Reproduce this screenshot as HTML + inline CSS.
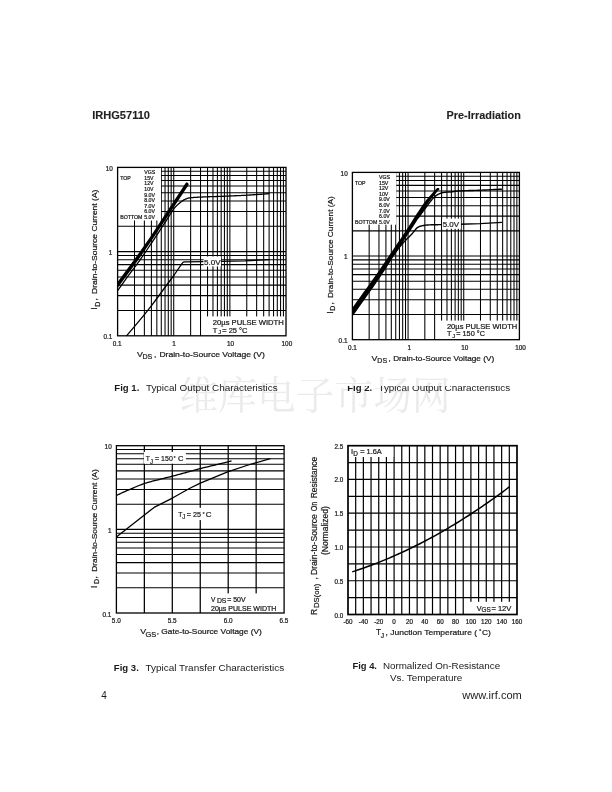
<!DOCTYPE html>
<html lang="en"><head><meta charset="utf-8"><title>IRHG57110 - Pre-Irradiation</title>
<style>
html,body{margin:0;padding:0;background:#fff;}
body{width:612px;height:792px;overflow:hidden;}
svg{display:block;font-family:"Liberation Sans", sans-serif;}
svg text{font-family:"Liberation Sans", sans-serif;}
</style></head><body>
<svg width="612" height="792" viewBox="0 0 612 792">
<defs><clipPath id="p2"><rect x="352.4" y="172.4" width="167" height="167.3"/></clipPath><clipPath id="c2"><rect x="340" y="386" width="200" height="20"/></clipPath></defs>
<rect width="612" height="792" fill="#fff"/>
<text x="179.5" y="409" font-size="38.5" fill="#ebebeb" textLength="271" lengthAdjust="spacing" style="font-family:'Liberation Serif','Noto Serif CJK SC',serif">维库电子市场网</text>
<line x1="134.5" y1="167.4" x2="134.5" y2="335.8" stroke="#000" stroke-width="1.05"/>
<line x1="144.38" y1="167.4" x2="144.38" y2="335.8" stroke="#000" stroke-width="1.05"/>
<line x1="151.4" y1="167.4" x2="151.4" y2="335.8" stroke="#000" stroke-width="1.05"/>
<line x1="156.84" y1="167.4" x2="156.84" y2="335.8" stroke="#000" stroke-width="1.05"/>
<line x1="161.28" y1="167.4" x2="161.28" y2="335.8" stroke="#000" stroke-width="1.05"/>
<line x1="165.04" y1="167.4" x2="165.04" y2="335.8" stroke="#000" stroke-width="1.05"/>
<line x1="168.29" y1="167.4" x2="168.29" y2="335.8" stroke="#000" stroke-width="1.05"/>
<line x1="171.16" y1="167.4" x2="171.16" y2="335.8" stroke="#000" stroke-width="1.05"/>
<line x1="173.73" y1="167.4" x2="173.73" y2="335.8" stroke="#000" stroke-width="1.05"/>
<line x1="190.63" y1="167.4" x2="190.63" y2="335.8" stroke="#000" stroke-width="1.05"/>
<line x1="200.52" y1="167.4" x2="200.52" y2="335.8" stroke="#000" stroke-width="1.05"/>
<line x1="207.53" y1="167.4" x2="207.53" y2="335.8" stroke="#000" stroke-width="1.05"/>
<line x1="212.97" y1="167.4" x2="212.97" y2="335.8" stroke="#000" stroke-width="1.05"/>
<line x1="217.41" y1="167.4" x2="217.41" y2="335.8" stroke="#000" stroke-width="1.05"/>
<line x1="221.17" y1="167.4" x2="221.17" y2="335.8" stroke="#000" stroke-width="1.05"/>
<line x1="224.43" y1="167.4" x2="224.43" y2="335.8" stroke="#000" stroke-width="1.05"/>
<line x1="227.3" y1="167.4" x2="227.3" y2="335.8" stroke="#000" stroke-width="1.05"/>
<line x1="229.87" y1="167.4" x2="229.87" y2="335.8" stroke="#000" stroke-width="1.05"/>
<line x1="246.76" y1="167.4" x2="246.76" y2="335.8" stroke="#000" stroke-width="1.05"/>
<line x1="256.65" y1="167.4" x2="256.65" y2="335.8" stroke="#000" stroke-width="1.05"/>
<line x1="263.66" y1="167.4" x2="263.66" y2="335.8" stroke="#000" stroke-width="1.05"/>
<line x1="269.1" y1="167.4" x2="269.1" y2="335.8" stroke="#000" stroke-width="1.05"/>
<line x1="273.55" y1="167.4" x2="273.55" y2="335.8" stroke="#000" stroke-width="1.05"/>
<line x1="277.3" y1="167.4" x2="277.3" y2="335.8" stroke="#000" stroke-width="1.05"/>
<line x1="280.56" y1="167.4" x2="280.56" y2="335.8" stroke="#000" stroke-width="1.05"/>
<line x1="283.43" y1="167.4" x2="283.43" y2="335.8" stroke="#000" stroke-width="1.05"/>
<line x1="117.6" y1="310.45" x2="286" y2="310.45" stroke="#000" stroke-width="1.05"/>
<line x1="117.6" y1="295.63" x2="286" y2="295.63" stroke="#000" stroke-width="1.05"/>
<line x1="117.6" y1="285.11" x2="286" y2="285.11" stroke="#000" stroke-width="1.05"/>
<line x1="117.6" y1="276.95" x2="286" y2="276.95" stroke="#000" stroke-width="1.05"/>
<line x1="117.6" y1="270.28" x2="286" y2="270.28" stroke="#000" stroke-width="1.05"/>
<line x1="117.6" y1="264.64" x2="286" y2="264.64" stroke="#000" stroke-width="1.05"/>
<line x1="117.6" y1="259.76" x2="286" y2="259.76" stroke="#000" stroke-width="1.05"/>
<line x1="117.6" y1="255.45" x2="286" y2="255.45" stroke="#000" stroke-width="1.05"/>
<line x1="117.6" y1="251.6" x2="286" y2="251.6" stroke="#000" stroke-width="1.05"/>
<line x1="117.6" y1="226.25" x2="286" y2="226.25" stroke="#000" stroke-width="1.05"/>
<line x1="117.6" y1="211.43" x2="286" y2="211.43" stroke="#000" stroke-width="1.05"/>
<line x1="117.6" y1="200.91" x2="286" y2="200.91" stroke="#000" stroke-width="1.05"/>
<line x1="117.6" y1="192.75" x2="286" y2="192.75" stroke="#000" stroke-width="1.05"/>
<line x1="117.6" y1="186.08" x2="286" y2="186.08" stroke="#000" stroke-width="1.05"/>
<line x1="117.6" y1="180.44" x2="286" y2="180.44" stroke="#000" stroke-width="1.05"/>
<line x1="117.6" y1="175.56" x2="286" y2="175.56" stroke="#000" stroke-width="1.05"/>
<line x1="117.6" y1="171.25" x2="286" y2="171.25" stroke="#000" stroke-width="1.05"/>
<rect x="117.6" y="167.4" width="43.4" height="53.1" fill="#fff"/>
<text x="144.3" y="174" font-size="5.2" fill="#1a1a1a" stroke="#1a1a1a" stroke-width="0.22">VGS</text>
<text x="144.3" y="180" font-size="5.2" fill="#1a1a1a" stroke="#1a1a1a" stroke-width="0.22">15V</text>
<text x="144.3" y="185" font-size="5.2" fill="#1a1a1a" stroke="#1a1a1a" stroke-width="0.22">12V</text>
<text x="144.3" y="191" font-size="5.2" fill="#1a1a1a" stroke="#1a1a1a" stroke-width="0.22">10V</text>
<text x="144.3" y="197" font-size="5.2" fill="#1a1a1a" stroke="#1a1a1a" stroke-width="0.22">9.0V</text>
<text x="144.3" y="202" font-size="5.2" fill="#1a1a1a" stroke="#1a1a1a" stroke-width="0.22">8.0V</text>
<text x="144.3" y="208" font-size="5.2" fill="#1a1a1a" stroke="#1a1a1a" stroke-width="0.22">7.0V</text>
<text x="144.3" y="213" font-size="5.2" fill="#1a1a1a" stroke="#1a1a1a" stroke-width="0.22">6.0V</text>
<text x="144.3" y="219" font-size="5.2" fill="#1a1a1a" stroke="#1a1a1a" stroke-width="0.22">5.0V</text>
<text x="120.2" y="180" font-size="5.2" fill="#1a1a1a" stroke="#1a1a1a" stroke-width="0.22">TOP</text>
<text x="120.2" y="219" font-size="5.2" textLength="22.3" lengthAdjust="spacingAndGlyphs" fill="#1a1a1a" stroke="#1a1a1a" stroke-width="0.22">BOTTOM</text>
<rect x="206.3" y="316.4" width="79.7" height="19.4" fill="#fff"/>
<polygon fill="#000" points="117.6,282.0 134.2,259.6 150.0,237.2 185.86,182.71 186.9,182.3 188.2,183.3 188.74,184.69 153.9,237.2 138.6,259.6 117.6,288.0"/>
<polyline fill="none" stroke="#000" stroke-width="1.3" stroke-linejoin="round" stroke-linecap="butt" points="117.6,290.6 118.18,289.8 118.91,288.78 119.76,287.59 120.73,286.25 121.77,284.79 122.87,283.26 124.02,281.67 125.17,280.06 126.32,278.47 127.44,276.93 128.51,275.46 129.5,274.1 130.42,272.85 131.31,271.66 132.18,270.52 133.02,269.41 133.86,268.32 134.7,267.22 135.55,266.1 136.42,264.94 137.32,263.73 138.26,262.45 139.25,261.08 140.3,259.6 141.42,257.99 142.62,256.25 143.88,254.4 145.19,252.48 146.52,250.5 147.88,248.49 149.22,246.47 150.56,244.48 151.85,242.53 153.11,240.65 154.29,238.86 155.4,237.2 156.45,235.62 157.47,234.07 158.47,232.56 159.43,231.09 160.37,229.67 161.26,228.29 162.12,226.97 162.94,225.71 163.73,224.5 164.46,223.37 165.15,222.3 165.8,221.3 166.38,220.4 166.9,219.59 167.35,218.88 167.76,218.24 168.12,217.66 168.45,217.13 168.76,216.63 169.06,216.16 169.35,215.69 169.65,215.22 169.96,214.73 170.3,214.2 170.65,213.66 170.99,213.12 171.31,212.59 171.64,212.07 171.96,211.56 172.28,211.06 172.59,210.56 172.92,210.07 173.25,209.59 173.59,209.12 173.94,208.65 174.3,208.2 174.68,207.75 175.07,207.32 175.46,206.89 175.87,206.46 176.28,206.05 176.7,205.64 177.12,205.25 177.54,204.86 177.96,204.48 178.38,204.11 178.79,203.75 179.2,203.4 179.6,203.06 180,202.72 180.4,202.4 180.8,202.08 181.2,201.77 181.59,201.47 181.99,201.18 182.39,200.9 182.79,200.63 183.19,200.38 183.59,200.13 184,199.9 184.41,199.68 184.81,199.48 185.21,199.28 185.61,199.1 186.02,198.93 186.43,198.77 186.84,198.62 187.25,198.48 187.67,198.35 188.11,198.22 188.55,198.11 189,198 189.45,197.9 189.9,197.82 190.34,197.76 190.78,197.7 191.23,197.65 191.69,197.61 192.17,197.58 192.67,197.54 193.2,197.51 193.76,197.48 194.36,197.44 195,197.4 195.65,197.36 196.26,197.32 196.87,197.28 197.48,197.24 198.12,197.2 198.81,197.17 199.57,197.13 200.41,197.09 201.35,197.05 202.42,197.01 203.63,196.96 205,196.9 206.57,196.84 208.36,196.77 210.31,196.71 212.41,196.63 214.61,196.56 216.88,196.48 219.18,196.4 221.48,196.32 223.75,196.24 225.95,196.16 228.04,196.08 230,196 231.84,195.92 233.63,195.84 235.37,195.77 237.06,195.69 238.72,195.61 240.35,195.53 241.96,195.45 243.56,195.37 245.16,195.28 246.76,195.19 248.37,195.1 250,195 251.7,194.89 253.49,194.77 255.35,194.65 257.23,194.51 259.11,194.37 260.95,194.24 262.72,194.1 264.39,193.98 265.93,193.86 267.3,193.76 268.46,193.67 269.4,193.6"/>
<polyline fill="none" stroke="#000" stroke-width="1.3" stroke-linejoin="round" stroke-linecap="butt" points="126.5,335.8 134.6,326.4 144.6,314.4 151.7,305.3 155.7,300 174.5,274.5 182.3,263.1 183.3,262.1 185,261.8 203.7,261.6"/>
<polyline fill="none" stroke="#000" stroke-width="1.3" stroke-linejoin="round" stroke-linecap="butt" points="220.8,261.4 245,260.9 269.4,259.6"/>
<rect x="203.6" y="256.5" width="17.4" height="9.9" fill="#fff"/>
<text x="204" y="265" font-size="8.0" textLength="16.6" lengthAdjust="spacingAndGlyphs" fill="#1a1a1a" stroke="#1a1a1a" stroke-width="0.22">5.0V</text>
<rect x="117.6" y="167.4" width="168.4" height="168.4" fill="none" stroke="#000" stroke-width="1.3"/>
<text x="212.8" y="324.6" font-size="6.8" textLength="71" lengthAdjust="spacingAndGlyphs" fill="#1a1a1a" stroke="#1a1a1a" stroke-width="0.22">20µs PULSE WIDTH</text>
<text x="212.8" y="332.6" font-size="7.4" fill="#1a1a1a" stroke="#1a1a1a" stroke-width="0.22">T</text>
<text x="218.2" y="333.6" font-size="5.6" fill="#1a1a1a" stroke="#1a1a1a" stroke-width="0.22">J</text>
<text x="222.2" y="332.6" font-size="7.4" textLength="25.3" lengthAdjust="spacingAndGlyphs" fill="#1a1a1a" stroke="#1a1a1a" stroke-width="0.22">= 25 °C</text>
<text x="112.8" y="170.7" font-size="6.4" text-anchor="end" fill="#1a1a1a" stroke="#1a1a1a" stroke-width="0.22">10</text>
<text x="112.4" y="255" font-size="6.4" text-anchor="end" fill="#1a1a1a" stroke="#1a1a1a" stroke-width="0.22">1</text>
<text x="112.4" y="338.8" font-size="6.4" text-anchor="end" fill="#1a1a1a" stroke="#1a1a1a" stroke-width="0.22">0.1</text>
<text x="117.2" y="345.8" font-size="6.4" text-anchor="middle" fill="#1a1a1a" stroke="#1a1a1a" stroke-width="0.22">0.1</text>
<text x="174.1" y="345.8" font-size="6.4" text-anchor="middle" fill="#1a1a1a" stroke="#1a1a1a" stroke-width="0.22">1</text>
<text x="230.5" y="345.8" font-size="6.4" text-anchor="middle" fill="#1a1a1a" stroke="#1a1a1a" stroke-width="0.22">10</text>
<text x="286.9" y="345.8" font-size="6.4" text-anchor="middle" fill="#1a1a1a" stroke="#1a1a1a" stroke-width="0.22">100</text>
<text x="137" y="356.9" font-size="8.0" textLength="5.9" lengthAdjust="spacingAndGlyphs" fill="#1a1a1a" stroke="#1a1a1a" stroke-width="0.22">V</text>
<text x="142.5" y="359.2" font-size="7.5" textLength="9.8" lengthAdjust="spacingAndGlyphs" fill="#1a1a1a" stroke="#1a1a1a" stroke-width="0.22">DS</text>
<text x="153.9" y="356.9" font-size="8.0" fill="#1a1a1a" stroke="#1a1a1a" stroke-width="0.22">,</text>
<text x="159.4" y="356.8" font-size="7.9" textLength="105.4" lengthAdjust="spacingAndGlyphs" fill="#1a1a1a" stroke="#1a1a1a" stroke-width="0.22">Drain-to-Source Voltage (V)</text>
<text x="97.3" y="309.8" font-size="8.45" fill="#1a1a1a" stroke="#1a1a1a" stroke-width="0.22" transform="rotate(-90 97.3 309.8)">I</text>
<text x="99.6" y="306.7" font-size="7" fill="#1a1a1a" stroke="#1a1a1a" stroke-width="0.22" transform="rotate(-90 99.6 306.7)">D</text>
<text x="97.3" y="300.4" font-size="8.45" fill="#1a1a1a" stroke="#1a1a1a" stroke-width="0.22" transform="rotate(-90 97.3 300.4)">,</text>
<text x="97.3" y="293.9" font-size="7.9" textLength="104.3" lengthAdjust="spacingAndGlyphs" fill="#1a1a1a" stroke="#1a1a1a" stroke-width="0.22" transform="rotate(-90 97.3 293.9)">Drain-to-Source Current (A)</text>
<line x1="144.35" y1="445.7" x2="144.35" y2="613" stroke="#000" stroke-width="1.25"/>
<line x1="172.3" y1="445.7" x2="172.3" y2="613" stroke="#000" stroke-width="1.25"/>
<line x1="200.25" y1="445.7" x2="200.25" y2="613" stroke="#000" stroke-width="1.25"/>
<line x1="228.2" y1="445.7" x2="228.2" y2="613" stroke="#000" stroke-width="1.25"/>
<line x1="256.15" y1="445.7" x2="256.15" y2="613" stroke="#000" stroke-width="1.25"/>
<line x1="116.4" y1="587.82" x2="284.1" y2="587.82" stroke="#000" stroke-width="1.05"/>
<line x1="116.4" y1="573.09" x2="284.1" y2="573.09" stroke="#000" stroke-width="1.05"/>
<line x1="116.4" y1="562.64" x2="284.1" y2="562.64" stroke="#000" stroke-width="1.05"/>
<line x1="116.4" y1="554.53" x2="284.1" y2="554.53" stroke="#000" stroke-width="1.05"/>
<line x1="116.4" y1="547.91" x2="284.1" y2="547.91" stroke="#000" stroke-width="1.05"/>
<line x1="116.4" y1="542.31" x2="284.1" y2="542.31" stroke="#000" stroke-width="1.05"/>
<line x1="116.4" y1="537.46" x2="284.1" y2="537.46" stroke="#000" stroke-width="1.05"/>
<line x1="116.4" y1="533.18" x2="284.1" y2="533.18" stroke="#000" stroke-width="1.05"/>
<line x1="116.4" y1="529.35" x2="284.1" y2="529.35" stroke="#000" stroke-width="1.05"/>
<line x1="116.4" y1="504.17" x2="284.1" y2="504.17" stroke="#000" stroke-width="1.05"/>
<line x1="116.4" y1="489.44" x2="284.1" y2="489.44" stroke="#000" stroke-width="1.05"/>
<line x1="116.4" y1="478.99" x2="284.1" y2="478.99" stroke="#000" stroke-width="1.05"/>
<line x1="116.4" y1="470.88" x2="284.1" y2="470.88" stroke="#000" stroke-width="1.05"/>
<line x1="116.4" y1="464.26" x2="284.1" y2="464.26" stroke="#000" stroke-width="1.05"/>
<line x1="116.4" y1="458.66" x2="284.1" y2="458.66" stroke="#000" stroke-width="1.05"/>
<line x1="116.4" y1="453.81" x2="284.1" y2="453.81" stroke="#000" stroke-width="1.05"/>
<line x1="116.4" y1="449.53" x2="284.1" y2="449.53" stroke="#000" stroke-width="1.05"/>
<rect x="201.4" y="593.4" width="82.7" height="19.6" fill="#fff"/>
<rect x="143.9" y="451.8" width="42" height="11.9" fill="#fff"/>
<rect x="176.5" y="507.8" width="36.5" height="12.3" fill="#fff"/>
<polyline fill="none" stroke="#000" stroke-width="1.3" stroke-linejoin="round" stroke-linecap="butt" points="116.4,495.4 117.05,495.1 117.87,494.73 118.83,494.3 119.9,493.81 121.06,493.28 122.3,492.71 123.59,492.13 124.9,491.54 126.23,490.95 127.53,490.37 128.8,489.82 130,489.3 131.17,488.8 132.36,488.29 133.56,487.78 134.77,487.27 135.98,486.76 137.2,486.25 138.42,485.75 139.63,485.27 140.84,484.8 142.04,484.34 143.23,483.91 144.4,483.5 145.56,483.12 146.7,482.76 147.84,482.43 148.96,482.11 150.08,481.8 151.2,481.51 152.32,481.23 153.44,480.95 154.56,480.67 155.7,480.39 156.84,480.1 158,479.8 159.17,479.5 160.36,479.2 161.56,478.9 162.77,478.6 163.98,478.3 165.2,478 166.42,477.7 167.63,477.4 168.84,477.1 170.04,476.8 171.23,476.5 172.4,476.2 173.56,475.9 174.7,475.59 175.84,475.29 176.97,474.98 178.09,474.68 179.21,474.37 180.32,474.06 181.44,473.75 182.57,473.44 183.7,473.13 184.84,472.82 186,472.5 187.17,472.18 188.34,471.86 189.52,471.53 190.7,471.2 191.89,470.87 193.08,470.54 194.28,470.21 195.48,469.89 196.68,469.56 197.89,469.23 199.09,468.92 200.3,468.6 201.51,468.29 202.71,467.99 203.9,467.69 205.1,467.39 206.31,467.1 207.51,466.81 208.73,466.51 209.95,466.22 211.19,465.92 212.44,465.62 213.71,465.31 215,465 216.36,464.67 217.84,464.31 219.39,463.93 220.98,463.55 222.58,463.16 224.17,462.77 225.7,462.4 227.16,462.05 228.49,461.73 229.68,461.44 230.7,461.19 231.5,461"/>
<polyline fill="none" stroke="#000" stroke-width="1.3" stroke-linejoin="round" stroke-linecap="butt" points="116.4,536.9 154.1,507.4 172.9,497.8 189.4,488.5 200.3,483.2 227.6,471.8 248.2,465 270.3,458.6"/>
<rect x="116.4" y="445.7" width="167.7" height="167.3" fill="none" stroke="#000" stroke-width="1.3"/>
<text x="145.8" y="461" font-size="8.0" textLength="4.1" lengthAdjust="spacingAndGlyphs" fill="#1a1a1a" stroke="#1a1a1a" stroke-width="0.22">T</text>
<text x="149.9" y="463.6" font-size="7.0" textLength="3" lengthAdjust="spacingAndGlyphs" fill="#1a1a1a" stroke="#1a1a1a" stroke-width="0.22">J</text>
<text x="155.1" y="461" font-size="8.0" textLength="17.7" lengthAdjust="spacingAndGlyphs" fill="#1a1a1a" stroke="#1a1a1a" stroke-width="0.22">= 150</text>
<text x="173.6" y="460" font-size="5.6" fill="#1a1a1a" stroke="#1a1a1a" stroke-width="0.22">°</text>
<text x="178.1" y="461" font-size="8.0" textLength="5.5" lengthAdjust="spacingAndGlyphs" fill="#1a1a1a" stroke="#1a1a1a" stroke-width="0.22">C</text>
<text x="178.3" y="516.8" font-size="8.0" textLength="4.1" lengthAdjust="spacingAndGlyphs" fill="#1a1a1a" stroke="#1a1a1a" stroke-width="0.22">T</text>
<text x="182.2" y="518.8" font-size="7.0" textLength="3" lengthAdjust="spacingAndGlyphs" fill="#1a1a1a" stroke="#1a1a1a" stroke-width="0.22">J</text>
<text x="186.7" y="516.8" font-size="8.0" textLength="14.2" lengthAdjust="spacingAndGlyphs" fill="#1a1a1a" stroke="#1a1a1a" stroke-width="0.22">= 25</text>
<text x="202.4" y="515.8" font-size="5.6" fill="#1a1a1a" stroke="#1a1a1a" stroke-width="0.22">°</text>
<text x="205.8" y="516.8" font-size="8.0" textLength="5.8" lengthAdjust="spacingAndGlyphs" fill="#1a1a1a" stroke="#1a1a1a" stroke-width="0.22">C</text>
<text x="211" y="601.9" font-size="6.5" fill="#1a1a1a" stroke="#1a1a1a" stroke-width="0.22">V</text>
<text x="216.9" y="603" font-size="6.4" textLength="9.5" lengthAdjust="spacingAndGlyphs" fill="#1a1a1a" stroke="#1a1a1a" stroke-width="0.22">DS</text>
<text x="227.2" y="601.9" font-size="6.5" textLength="18.4" lengthAdjust="spacingAndGlyphs" fill="#1a1a1a" stroke="#1a1a1a" stroke-width="0.22">= 50V</text>
<text x="211" y="610.5" font-size="6.5" textLength="65.4" lengthAdjust="spacingAndGlyphs" fill="#1a1a1a" stroke="#1a1a1a" stroke-width="0.22">20µs PULSE WIDTH</text>
<text x="111.7" y="448.8" font-size="6.4" text-anchor="end" fill="#1a1a1a" stroke="#1a1a1a" stroke-width="0.22">10</text>
<text x="111.5" y="533.4" font-size="6.4" text-anchor="end" fill="#1a1a1a" stroke="#1a1a1a" stroke-width="0.22">1</text>
<text x="111.3" y="617" font-size="6.4" text-anchor="end" fill="#1a1a1a" stroke="#1a1a1a" stroke-width="0.22">0.1</text>
<text x="116.3" y="622.9" font-size="6.4" text-anchor="middle" fill="#1a1a1a" stroke="#1a1a1a" stroke-width="0.22">5.0</text>
<text x="172.1" y="622.9" font-size="6.4" text-anchor="middle" fill="#1a1a1a" stroke="#1a1a1a" stroke-width="0.22">5.5</text>
<text x="228.2" y="622.9" font-size="6.4" text-anchor="middle" fill="#1a1a1a" stroke="#1a1a1a" stroke-width="0.22">6.0</text>
<text x="283.9" y="622.9" font-size="6.4" text-anchor="middle" fill="#1a1a1a" stroke="#1a1a1a" stroke-width="0.22">6.5</text>
<text x="140.2" y="634" font-size="8.0" textLength="5.9" lengthAdjust="spacingAndGlyphs" fill="#1a1a1a" stroke="#1a1a1a" stroke-width="0.22">V</text>
<text x="145.4" y="637" font-size="7.5" textLength="10.8" lengthAdjust="spacingAndGlyphs" fill="#1a1a1a" stroke="#1a1a1a" stroke-width="0.22">GS</text>
<text x="156.8" y="634" font-size="8.0" fill="#1a1a1a" stroke="#1a1a1a" stroke-width="0.22">,</text>
<text x="161.3" y="634" font-size="7.9" textLength="100.5" lengthAdjust="spacingAndGlyphs" fill="#1a1a1a" stroke="#1a1a1a" stroke-width="0.22">Gate-to-Source Voltage (V)</text>
<text x="97.1" y="587.9" font-size="8.4" fill="#1a1a1a" stroke="#1a1a1a" stroke-width="0.22" transform="rotate(-90 97.1 587.9)">I</text>
<text x="98.8" y="584.1" font-size="7" fill="#1a1a1a" stroke="#1a1a1a" stroke-width="0.22" transform="rotate(-90 98.8 584.1)">D</text>
<text x="97.1" y="578.4" font-size="8.4" fill="#1a1a1a" stroke="#1a1a1a" stroke-width="0.22" transform="rotate(-90 97.1 578.4)">,</text>
<text x="97.1" y="571.7" font-size="7.9" textLength="102.6" lengthAdjust="spacingAndGlyphs" fill="#1a1a1a" stroke="#1a1a1a" stroke-width="0.22" transform="rotate(-90 97.1 571.7)">Drain-to-Source Current (A)</text>
<line x1="355.68" y1="445.7" x2="355.68" y2="614.5" stroke="#000" stroke-width="1.2"/>
<line x1="363.36" y1="445.7" x2="363.36" y2="614.5" stroke="#000" stroke-width="1.2"/>
<line x1="371.05" y1="445.7" x2="371.05" y2="614.5" stroke="#000" stroke-width="1.2"/>
<line x1="378.73" y1="445.7" x2="378.73" y2="614.5" stroke="#000" stroke-width="1.2"/>
<line x1="386.41" y1="445.7" x2="386.41" y2="614.5" stroke="#000" stroke-width="1.2"/>
<line x1="394.09" y1="445.7" x2="394.09" y2="614.5" stroke="#000" stroke-width="1.2"/>
<line x1="401.77" y1="445.7" x2="401.77" y2="614.5" stroke="#000" stroke-width="1.2"/>
<line x1="409.45" y1="445.7" x2="409.45" y2="614.5" stroke="#000" stroke-width="1.2"/>
<line x1="417.14" y1="445.7" x2="417.14" y2="614.5" stroke="#000" stroke-width="1.2"/>
<line x1="424.82" y1="445.7" x2="424.82" y2="614.5" stroke="#000" stroke-width="1.2"/>
<line x1="432.5" y1="445.7" x2="432.5" y2="614.5" stroke="#000" stroke-width="1.2"/>
<line x1="440.18" y1="445.7" x2="440.18" y2="614.5" stroke="#000" stroke-width="1.2"/>
<line x1="447.86" y1="445.7" x2="447.86" y2="614.5" stroke="#000" stroke-width="1.2"/>
<line x1="455.55" y1="445.7" x2="455.55" y2="614.5" stroke="#000" stroke-width="1.2"/>
<line x1="463.23" y1="445.7" x2="463.23" y2="614.5" stroke="#000" stroke-width="1.2"/>
<line x1="470.91" y1="445.7" x2="470.91" y2="614.5" stroke="#000" stroke-width="1.2"/>
<line x1="478.59" y1="445.7" x2="478.59" y2="614.5" stroke="#000" stroke-width="1.2"/>
<line x1="486.27" y1="445.7" x2="486.27" y2="614.5" stroke="#000" stroke-width="1.2"/>
<line x1="493.95" y1="445.7" x2="493.95" y2="614.5" stroke="#000" stroke-width="1.2"/>
<line x1="501.64" y1="445.7" x2="501.64" y2="614.5" stroke="#000" stroke-width="1.2"/>
<line x1="509.32" y1="445.7" x2="509.32" y2="614.5" stroke="#000" stroke-width="1.2"/>
<line x1="348" y1="462.58" x2="517" y2="462.58" stroke="#000" stroke-width="1.2"/>
<line x1="348" y1="479.46" x2="517" y2="479.46" stroke="#000" stroke-width="1.2"/>
<line x1="348" y1="496.34" x2="517" y2="496.34" stroke="#000" stroke-width="1.2"/>
<line x1="348" y1="513.22" x2="517" y2="513.22" stroke="#000" stroke-width="1.2"/>
<line x1="348" y1="530.1" x2="517" y2="530.1" stroke="#000" stroke-width="1.2"/>
<line x1="348" y1="546.98" x2="517" y2="546.98" stroke="#000" stroke-width="1.2"/>
<line x1="348" y1="563.86" x2="517" y2="563.86" stroke="#000" stroke-width="1.2"/>
<line x1="348" y1="580.74" x2="517" y2="580.74" stroke="#000" stroke-width="1.2"/>
<line x1="348" y1="597.62" x2="517" y2="597.62" stroke="#000" stroke-width="1.2"/>
<rect x="348" y="445.7" width="45.4" height="11.3" fill="#fff"/>
<rect x="464.3" y="601.8" width="52.7" height="12.7" fill="#fff"/>
<polyline fill="none" stroke="#000" stroke-width="1.5" stroke-linejoin="round" stroke-linecap="butt" points="352.23,571.84 355.3,570.84 358.37,569.81 361.44,568.75 364.52,567.67 367.59,566.56 370.66,565.43 373.73,564.27 376.81,563.08 379.88,561.87 382.95,560.63 386.02,559.36 389.1,558.07 392.17,556.75 395.24,555.41 398.32,554.04 401.39,552.64 404.46,551.22 407.53,549.77 410.61,548.29 413.68,546.79 416.75,545.26 419.82,543.71 422.9,542.13 425.97,540.52 429.04,538.88 432.12,537.22 435.19,535.54 438.26,533.83 441.33,532.09 444.41,530.32 447.48,528.53 450.55,526.71 453.62,524.87 456.7,523 459.77,521.1 462.84,519.18 465.92,517.23 468.99,515.25 472.06,513.25 475.13,511.22 478.21,509.17 481.28,507.08 484.35,504.98 487.43,502.84 490.5,500.68 493.57,498.5 496.64,496.28 499.72,494.04 502.79,491.78 505.86,489.49 508.93,487.17 509.32,486.88"/>
<rect x="348" y="445.7" width="169" height="168.8" fill="none" stroke="#000" stroke-width="1.7"/>
<text x="351.1" y="454" font-size="7.5" fill="#1a1a1a" stroke="#1a1a1a" stroke-width="0.22">I</text>
<text x="353.3" y="456.4" font-size="6.4" fill="#1a1a1a" stroke="#1a1a1a" stroke-width="0.22">D</text>
<text x="360.2" y="454" font-size="7.5" textLength="21.6" lengthAdjust="spacingAndGlyphs" fill="#1a1a1a" stroke="#1a1a1a" stroke-width="0.22">= 1.6A</text>
<text x="476.8" y="610.9" font-size="7.3" fill="#1a1a1a" stroke="#1a1a1a" stroke-width="0.22">V</text>
<text x="481.6" y="611.8" font-size="6.6" textLength="9.3" lengthAdjust="spacingAndGlyphs" fill="#1a1a1a" stroke="#1a1a1a" stroke-width="0.22">GS</text>
<text x="491.4" y="610.9" font-size="7.3" textLength="20" lengthAdjust="spacingAndGlyphs" fill="#1a1a1a" stroke="#1a1a1a" stroke-width="0.22">= 12V</text>
<text x="343.2" y="618" font-size="6.3" text-anchor="end" fill="#1a1a1a" stroke="#1a1a1a" stroke-width="0.22">0.0</text>
<text x="343.2" y="583.6" font-size="6.3" text-anchor="end" fill="#1a1a1a" stroke="#1a1a1a" stroke-width="0.22">0.5</text>
<text x="343.2" y="550" font-size="6.3" text-anchor="end" fill="#1a1a1a" stroke="#1a1a1a" stroke-width="0.22">1.0</text>
<text x="343.2" y="516" font-size="6.3" text-anchor="end" fill="#1a1a1a" stroke="#1a1a1a" stroke-width="0.22">1.5</text>
<text x="343.2" y="482" font-size="6.3" text-anchor="end" fill="#1a1a1a" stroke="#1a1a1a" stroke-width="0.22">2.0</text>
<text x="343.2" y="449" font-size="6.3" text-anchor="end" fill="#1a1a1a" stroke="#1a1a1a" stroke-width="0.22">2.5</text>
<text x="348" y="623.7" font-size="6.3" text-anchor="middle" fill="#1a1a1a" stroke="#1a1a1a" stroke-width="0.22">-60</text>
<text x="363.36" y="623.7" font-size="6.3" text-anchor="middle" fill="#1a1a1a" stroke="#1a1a1a" stroke-width="0.22">-40</text>
<text x="378.73" y="623.7" font-size="6.3" text-anchor="middle" fill="#1a1a1a" stroke="#1a1a1a" stroke-width="0.22">-20</text>
<text x="394.09" y="623.7" font-size="6.3" text-anchor="middle" fill="#1a1a1a" stroke="#1a1a1a" stroke-width="0.22">0</text>
<text x="409.45" y="623.7" font-size="6.3" text-anchor="middle" fill="#1a1a1a" stroke="#1a1a1a" stroke-width="0.22">20</text>
<text x="424.82" y="623.7" font-size="6.3" text-anchor="middle" fill="#1a1a1a" stroke="#1a1a1a" stroke-width="0.22">40</text>
<text x="440.18" y="623.7" font-size="6.3" text-anchor="middle" fill="#1a1a1a" stroke="#1a1a1a" stroke-width="0.22">60</text>
<text x="455.55" y="623.7" font-size="6.3" text-anchor="middle" fill="#1a1a1a" stroke="#1a1a1a" stroke-width="0.22">80</text>
<text x="470.91" y="623.7" font-size="6.3" text-anchor="middle" fill="#1a1a1a" stroke="#1a1a1a" stroke-width="0.22">100</text>
<text x="486.27" y="623.7" font-size="6.3" text-anchor="middle" fill="#1a1a1a" stroke="#1a1a1a" stroke-width="0.22">120</text>
<text x="501.64" y="623.7" font-size="6.3" text-anchor="middle" fill="#1a1a1a" stroke="#1a1a1a" stroke-width="0.22">140</text>
<text x="517" y="623.7" font-size="6.3" text-anchor="middle" fill="#1a1a1a" stroke="#1a1a1a" stroke-width="0.22">160</text>
<text x="375.9" y="635" font-size="8.4" fill="#1a1a1a" stroke="#1a1a1a" stroke-width="0.22">T</text>
<text x="380.8" y="637.6" font-size="6.6" fill="#1a1a1a" stroke="#1a1a1a" stroke-width="0.22">J</text>
<text x="385.4" y="635" font-size="8.4" fill="#1a1a1a" stroke="#1a1a1a" stroke-width="0.22">,</text>
<text x="390.3" y="635" font-size="7.9" textLength="86.8" lengthAdjust="spacingAndGlyphs" fill="#1a1a1a" stroke="#1a1a1a" stroke-width="0.22">Junction Temperature (</text>
<text x="478.9" y="632.6" font-size="6.2" fill="#1a1a1a" stroke="#1a1a1a" stroke-width="0.22">°</text>
<text x="481.9" y="635" font-size="8.0" textLength="8.9" lengthAdjust="spacingAndGlyphs" fill="#1a1a1a" stroke="#1a1a1a" stroke-width="0.22">C)</text>
<text x="316.7" y="614.9" font-size="8.5" fill="#1a1a1a" stroke="#1a1a1a" stroke-width="0.22" transform="rotate(-90 316.7 614.9)">R</text>
<text x="319.3" y="607.9" font-size="7.4" textLength="24.2" lengthAdjust="spacingAndGlyphs" fill="#1a1a1a" stroke="#1a1a1a" stroke-width="0.22" transform="rotate(-90 319.3 607.9)">DS(on)</text>
<text x="316.7" y="579.5" font-size="8.5" fill="#1a1a1a" stroke="#1a1a1a" stroke-width="0.22" transform="rotate(-90 316.7 579.5)">,</text>
<text x="316.7" y="575.1" font-size="8.5" textLength="61" lengthAdjust="spacingAndGlyphs" fill="#1a1a1a" stroke="#1a1a1a" stroke-width="0.22" transform="rotate(-90 316.7 575.1)">Drain-to-Source</text>
<text x="316.7" y="511.3" font-size="8.5" textLength="9.6" lengthAdjust="spacingAndGlyphs" fill="#1a1a1a" stroke="#1a1a1a" stroke-width="0.22" transform="rotate(-90 316.7 511.3)">On</text>
<text x="316.7" y="498.2" font-size="8.5" textLength="41.4" lengthAdjust="spacingAndGlyphs" fill="#1a1a1a" stroke="#1a1a1a" stroke-width="0.22" transform="rotate(-90 316.7 498.2)">Resistance</text>
<text x="327.5" y="555" font-size="8.5" textLength="48.8" lengthAdjust="spacingAndGlyphs" fill="#1a1a1a" stroke="#1a1a1a" stroke-width="0.22" transform="rotate(-90 327.5 555)">(Normalized)</text>
<text x="114.3" y="390.8" font-size="9.6" font-weight="bold" textLength="25" lengthAdjust="spacingAndGlyphs" fill="#1a1a1a">Fig 1.</text>
<text x="145.9" y="390.8" font-size="9.6" textLength="131.7" lengthAdjust="spacingAndGlyphs" fill="#1a1a1a">Typical Output Characteristics</text>
<g clip-path="url(#c2)">
<text x="347.2" y="390.8" font-size="9.6" font-weight="bold" textLength="25" lengthAdjust="spacingAndGlyphs" fill="#1a1a1a">Fig 2.</text>
<text x="378.4" y="390.8" font-size="9.6" textLength="131.7" lengthAdjust="spacingAndGlyphs" fill="#1a1a1a">Typical Output Characteristics</text>
</g>
<line x1="369.16" y1="172.4" x2="369.16" y2="339.7" stroke="#000" stroke-width="1.05"/>
<line x1="378.96" y1="172.4" x2="378.96" y2="339.7" stroke="#000" stroke-width="1.05"/>
<line x1="385.91" y1="172.4" x2="385.91" y2="339.7" stroke="#000" stroke-width="1.05"/>
<line x1="391.31" y1="172.4" x2="391.31" y2="339.7" stroke="#000" stroke-width="1.05"/>
<line x1="395.72" y1="172.4" x2="395.72" y2="339.7" stroke="#000" stroke-width="1.05"/>
<line x1="399.44" y1="172.4" x2="399.44" y2="339.7" stroke="#000" stroke-width="1.05"/>
<line x1="402.67" y1="172.4" x2="402.67" y2="339.7" stroke="#000" stroke-width="1.05"/>
<line x1="405.52" y1="172.4" x2="405.52" y2="339.7" stroke="#000" stroke-width="1.05"/>
<line x1="408.07" y1="172.4" x2="408.07" y2="339.7" stroke="#000" stroke-width="1.05"/>
<line x1="424.82" y1="172.4" x2="424.82" y2="339.7" stroke="#000" stroke-width="1.05"/>
<line x1="434.63" y1="172.4" x2="434.63" y2="339.7" stroke="#000" stroke-width="1.05"/>
<line x1="441.58" y1="172.4" x2="441.58" y2="339.7" stroke="#000" stroke-width="1.05"/>
<line x1="446.98" y1="172.4" x2="446.98" y2="339.7" stroke="#000" stroke-width="1.05"/>
<line x1="451.38" y1="172.4" x2="451.38" y2="339.7" stroke="#000" stroke-width="1.05"/>
<line x1="455.11" y1="172.4" x2="455.11" y2="339.7" stroke="#000" stroke-width="1.05"/>
<line x1="458.34" y1="172.4" x2="458.34" y2="339.7" stroke="#000" stroke-width="1.05"/>
<line x1="461.19" y1="172.4" x2="461.19" y2="339.7" stroke="#000" stroke-width="1.05"/>
<line x1="463.73" y1="172.4" x2="463.73" y2="339.7" stroke="#000" stroke-width="1.05"/>
<line x1="480.49" y1="172.4" x2="480.49" y2="339.7" stroke="#000" stroke-width="1.05"/>
<line x1="490.29" y1="172.4" x2="490.29" y2="339.7" stroke="#000" stroke-width="1.05"/>
<line x1="497.25" y1="172.4" x2="497.25" y2="339.7" stroke="#000" stroke-width="1.05"/>
<line x1="502.64" y1="172.4" x2="502.64" y2="339.7" stroke="#000" stroke-width="1.05"/>
<line x1="507.05" y1="172.4" x2="507.05" y2="339.7" stroke="#000" stroke-width="1.05"/>
<line x1="510.78" y1="172.4" x2="510.78" y2="339.7" stroke="#000" stroke-width="1.05"/>
<line x1="514.01" y1="172.4" x2="514.01" y2="339.7" stroke="#000" stroke-width="1.05"/>
<line x1="516.85" y1="172.4" x2="516.85" y2="339.7" stroke="#000" stroke-width="1.05"/>
<line x1="352.4" y1="314.52" x2="519.4" y2="314.52" stroke="#000" stroke-width="1.05"/>
<line x1="352.4" y1="299.79" x2="519.4" y2="299.79" stroke="#000" stroke-width="1.05"/>
<line x1="352.4" y1="289.34" x2="519.4" y2="289.34" stroke="#000" stroke-width="1.05"/>
<line x1="352.4" y1="281.23" x2="519.4" y2="281.23" stroke="#000" stroke-width="1.05"/>
<line x1="352.4" y1="274.61" x2="519.4" y2="274.61" stroke="#000" stroke-width="1.05"/>
<line x1="352.4" y1="269.01" x2="519.4" y2="269.01" stroke="#000" stroke-width="1.05"/>
<line x1="352.4" y1="264.16" x2="519.4" y2="264.16" stroke="#000" stroke-width="1.05"/>
<line x1="352.4" y1="259.88" x2="519.4" y2="259.88" stroke="#000" stroke-width="1.05"/>
<line x1="352.4" y1="256.05" x2="519.4" y2="256.05" stroke="#000" stroke-width="1.05"/>
<line x1="352.4" y1="230.87" x2="519.4" y2="230.87" stroke="#000" stroke-width="1.05"/>
<line x1="352.4" y1="216.14" x2="519.4" y2="216.14" stroke="#000" stroke-width="1.05"/>
<line x1="352.4" y1="205.69" x2="519.4" y2="205.69" stroke="#000" stroke-width="1.05"/>
<line x1="352.4" y1="197.58" x2="519.4" y2="197.58" stroke="#000" stroke-width="1.05"/>
<line x1="352.4" y1="190.96" x2="519.4" y2="190.96" stroke="#000" stroke-width="1.05"/>
<line x1="352.4" y1="185.36" x2="519.4" y2="185.36" stroke="#000" stroke-width="1.05"/>
<line x1="352.4" y1="180.51" x2="519.4" y2="180.51" stroke="#000" stroke-width="1.05"/>
<line x1="352.4" y1="176.23" x2="519.4" y2="176.23" stroke="#000" stroke-width="1.05"/>
<rect x="352.4" y="172.4" width="43.8" height="52.3" fill="#fff"/>
<text x="379.1" y="179" font-size="5.2" fill="#1a1a1a" stroke="#1a1a1a" stroke-width="0.22">VGS</text>
<text x="379.1" y="185" font-size="5.2" fill="#1a1a1a" stroke="#1a1a1a" stroke-width="0.22">15V</text>
<text x="379.1" y="190" font-size="5.2" fill="#1a1a1a" stroke="#1a1a1a" stroke-width="0.22">12V</text>
<text x="379.1" y="196" font-size="5.2" fill="#1a1a1a" stroke="#1a1a1a" stroke-width="0.22">10V</text>
<text x="379.1" y="201" font-size="5.2" fill="#1a1a1a" stroke="#1a1a1a" stroke-width="0.22">9.0V</text>
<text x="379.1" y="207" font-size="5.2" fill="#1a1a1a" stroke="#1a1a1a" stroke-width="0.22">8.0V</text>
<text x="379.1" y="213" font-size="5.2" fill="#1a1a1a" stroke="#1a1a1a" stroke-width="0.22">7.0V</text>
<text x="379.1" y="218" font-size="5.2" fill="#1a1a1a" stroke="#1a1a1a" stroke-width="0.22">6.0V</text>
<text x="379.1" y="224" font-size="5.2" fill="#1a1a1a" stroke="#1a1a1a" stroke-width="0.22">5.0V</text>
<text x="355" y="185" font-size="5.2" fill="#1a1a1a" stroke="#1a1a1a" stroke-width="0.22">TOP</text>
<text x="355" y="224" font-size="5.2" textLength="22.3" lengthAdjust="spacingAndGlyphs" fill="#1a1a1a" stroke="#1a1a1a" stroke-width="0.22">BOTTOM</text>
<rect x="440.5" y="320.6" width="78.9" height="19.1" fill="#fff"/>
<polygon clip-path="url(#p2)" fill="#000" points="342.25,322 342.7,321.36 343.21,320.65 343.8,319.82 344.52,318.82 345.39,317.6 346.44,316.12 347.72,314.34 349.25,312.2 351.17,309.52 353.5,306.26 356.12,302.61 358.9,298.74 361.7,294.84 364.39,291.08 366.85,287.64 368.95,284.7 370.69,282.27 372.18,280.17 373.5,278.32 374.68,276.65 375.79,275.08 376.88,273.53 378,271.93 379.2,270.2 380.42,268.43 381.57,266.75 382.69,265.09 383.82,263.41 385,261.67 386.25,259.8 387.63,257.76 389.15,255.5 390.87,252.96 392.76,250.18 394.77,247.2 396.87,244.12 398.98,240.99 401.08,237.88 403.1,234.86 405,232 406.82,229.23 408.62,226.44 410.39,223.68 412.12,220.97 413.79,218.35 415.39,215.86 416.89,213.53 418.3,211.4 419.57,209.49 420.7,207.8 421.74,206.27 422.7,204.86 423.64,203.54 424.58,202.25 425.55,200.95 426.6,199.6 427.77,198.16 429.06,196.66 430.41,195.14 431.74,193.66 433.02,192.28 434.17,191.04 435.13,189.99 435.85,189.2 437.2,187.9 438.8,188.1 439.9,189.6 439.35,189.2 438.69,189.99 437.8,191.04 436.74,192.28 435.57,193.66 434.33,195.14 433.09,196.66 431.9,198.16 430.8,199.6 429.82,200.95 428.91,202.25 428.03,203.54 427.15,204.86 426.23,206.27 425.24,207.8 424.14,209.49 422.9,211.4 421.51,213.53 420.01,215.86 418.41,218.35 416.73,220.97 414.99,223.68 413.21,226.44 411.41,229.23 409.6,232 407.72,234.86 405.72,237.88 403.66,240.99 401.57,244.12 399.52,247.2 397.55,250.18 395.71,252.96 394.05,255.5 392.6,257.76 391.31,259.8 390.14,261.67 389.06,263.41 388.03,265.09 387,266.75 385.94,268.43 384.8,270.2 383.67,271.93 382.63,273.53 381.61,275.08 380.57,276.65 379.44,278.32 378.18,280.17 376.74,282.27 375.05,284.7 372.99,287.64 370.57,291.08 367.9,294.84 365.13,298.74 362.38,302.61 359.77,306.26 357.46,309.52 355.55,312.2 354.03,314.34 352.76,316.12 351.7,317.6 350.83,318.82 350.11,319.82 349.51,320.65 349,321.36 348.55,322"/>
<polyline fill="none" stroke="#000" stroke-width="1.4" stroke-linejoin="round" stroke-linecap="butt" points="418,218.2 418.29,217.8 418.67,217.28 419.11,216.67 419.61,215.99 420.15,215.25 420.72,214.47 421.3,213.68 421.89,212.87 422.46,212.09 423.02,211.33 423.53,210.63 424,210 424.43,209.42 424.86,208.84 425.27,208.29 425.68,207.74 426.07,207.22 426.46,206.71 426.83,206.21 427.19,205.73 427.54,205.27 427.87,204.83 428.19,204.41 428.5,204 428.79,203.62 429.05,203.27 429.3,202.94 429.53,202.63 429.75,202.34 429.96,202.07 430.16,201.8 430.36,201.54 430.56,201.29 430.77,201.03 430.98,200.77 431.2,200.5 431.43,200.23 431.66,199.95 431.88,199.68 432.11,199.41 432.34,199.15 432.57,198.89 432.8,198.63 433.03,198.37 433.27,198.12 433.51,197.88 433.75,197.64 434,197.4 434.25,197.17 434.5,196.94 434.75,196.72 435,196.5 435.26,196.29 435.52,196.07 435.78,195.87 436.05,195.67 436.33,195.47 436.61,195.28 436.9,195.09 437.2,194.9 437.51,194.72 437.82,194.54 438.15,194.36 438.48,194.18 438.81,194.01 439.16,193.84 439.5,193.68 439.86,193.53 440.21,193.38 440.57,193.25 440.93,193.12 441.3,193 441.67,192.89 442.03,192.8 442.4,192.71 442.77,192.64 443.15,192.57 443.53,192.51 443.92,192.45 444.31,192.4 444.72,192.35 445.13,192.3 445.56,192.25 446,192.2 446.45,192.15 446.9,192.12 447.36,192.08 447.83,192.06 448.31,192.03 448.79,192.01 449.29,191.98 449.8,191.96 450.33,191.93 450.87,191.89 451.43,191.85 452,191.8 452.56,191.74 453.08,191.68 453.58,191.61 454.07,191.53 454.58,191.45 455.12,191.37 455.71,191.29 456.37,191.2 457.11,191.12 457.95,191.04 458.91,190.97 460,190.9 461.24,190.84 462.62,190.78 464.11,190.72 465.71,190.66 467.39,190.61 469.13,190.56 470.92,190.5 472.75,190.45 474.59,190.39 476.42,190.33 478.23,190.27 480,190.2 481.83,190.12 483.79,190.04 485.85,189.95 487.97,189.85 490.1,189.75 492.2,189.66 494.23,189.56 496.15,189.47 497.92,189.39 499.5,189.31 500.84,189.25 501.9,189.2"/>
<polyline fill="none" stroke="#000" stroke-width="1.4" stroke-linejoin="round" stroke-linecap="butt" points="380,274.5 380.27,274.14 380.6,273.69 380.99,273.17 381.43,272.59 381.9,271.95 382.41,271.27 382.93,270.56 383.46,269.84 384,269.11 384.52,268.38 385.02,267.68 385.5,267 385.96,266.33 386.42,265.66 386.87,264.97 387.33,264.27 387.79,263.57 388.24,262.87 388.7,262.16 389.16,261.46 389.62,260.76 390.08,260.06 390.54,259.38 391,258.7 391.46,258.03 391.92,257.37 392.37,256.72 392.82,256.07 393.28,255.43 393.73,254.79 394.19,254.15 394.66,253.5 395.13,252.86 395.61,252.21 396.1,251.56 396.6,250.9 397.11,250.24 397.62,249.57 398.14,248.9 398.67,248.23 399.2,247.55 399.74,246.88 400.29,246.2 400.85,245.52 401.42,244.84 402,244.16 402.59,243.48 403.2,242.8 403.83,242.11 404.5,241.41 405.19,240.7 405.91,239.99 406.63,239.27 407.36,238.56 408.08,237.86 408.78,237.17 409.46,236.49 410.12,235.83 410.73,235.2 411.3,234.6 411.83,234.02 412.32,233.44 412.79,232.88 413.23,232.33 413.65,231.79 414.05,231.28 414.43,230.78 414.8,230.31 415.16,229.86 415.51,229.44 415.86,229.05 416.2,228.7 416.52,228.38 416.81,228.11 417.08,227.87 417.33,227.66 417.57,227.48 417.8,227.31 418.04,227.17 418.28,227.03 418.54,226.9 418.83,226.77 419.15,226.64 419.5,226.5 419.89,226.36 420.3,226.22 420.74,226.09 421.19,225.97 421.66,225.85 422.14,225.74 422.64,225.63 423.14,225.53 423.66,225.44 424.17,225.35 424.69,225.27 425.2,225.2 425.71,225.13 426.2,225.08 426.7,225.03 427.19,224.99 427.69,224.96 428.2,224.93 428.73,224.91 429.28,224.89 429.85,224.86 430.46,224.84 431.11,224.82 431.8,224.8 432.57,224.78 433.45,224.75 434.4,224.73 435.4,224.71 436.43,224.69 437.46,224.68 438.47,224.66 439.43,224.64 440.32,224.63 441.11,224.62 441.78,224.61 442.3,224.6"/>
<polyline fill="none" stroke="#000" stroke-width="1.4" stroke-linejoin="round" stroke-linecap="butt" points="460,224.2 480,223.6 501.9,222.4"/>
<rect x="442.2" y="218.6" width="18.7" height="10.2" fill="#fff"/>
<text x="442.7" y="226.9" font-size="8.0" textLength="16.4" lengthAdjust="spacingAndGlyphs" fill="#1a1a1a" stroke="#1a1a1a" stroke-width="0.22">5.0V</text>
<rect x="352.4" y="172.4" width="167" height="167.3" fill="none" stroke="#000" stroke-width="1.3"/>
<text x="446.9" y="328.6" font-size="6.8" textLength="70.4" lengthAdjust="spacingAndGlyphs" fill="#1a1a1a" stroke="#1a1a1a" stroke-width="0.22">20µs PULSE WIDTH</text>
<text x="446.9" y="336.4" font-size="7.4" fill="#1a1a1a" stroke="#1a1a1a" stroke-width="0.22">T</text>
<text x="452.2" y="337.6" font-size="5.6" fill="#1a1a1a" stroke="#1a1a1a" stroke-width="0.22">J</text>
<text x="456.3" y="336.4" font-size="7.4" textLength="28.6" lengthAdjust="spacingAndGlyphs" fill="#1a1a1a" stroke="#1a1a1a" stroke-width="0.22">= 150 °C</text>
<text x="347.7" y="175.7" font-size="6.4" text-anchor="end" fill="#1a1a1a" stroke="#1a1a1a" stroke-width="0.22">10</text>
<text x="347.5" y="259" font-size="6.4" text-anchor="end" fill="#1a1a1a" stroke="#1a1a1a" stroke-width="0.22">1</text>
<text x="347.5" y="342.7" font-size="6.4" text-anchor="end" fill="#1a1a1a" stroke="#1a1a1a" stroke-width="0.22">0.1</text>
<text x="352.4" y="349.8" font-size="6.4" text-anchor="middle" fill="#1a1a1a" stroke="#1a1a1a" stroke-width="0.22">0.1</text>
<text x="409.2" y="349.8" font-size="6.4" text-anchor="middle" fill="#1a1a1a" stroke="#1a1a1a" stroke-width="0.22">1</text>
<text x="464.8" y="349.8" font-size="6.4" text-anchor="middle" fill="#1a1a1a" stroke="#1a1a1a" stroke-width="0.22">10</text>
<text x="520.6" y="349.8" font-size="6.4" text-anchor="middle" fill="#1a1a1a" stroke="#1a1a1a" stroke-width="0.22">100</text>
<text x="371.5" y="360.9" font-size="8.0" textLength="5.9" lengthAdjust="spacingAndGlyphs" fill="#1a1a1a" stroke="#1a1a1a" stroke-width="0.22">V</text>
<text x="377.3" y="362.9" font-size="7.5" textLength="9.8" lengthAdjust="spacingAndGlyphs" fill="#1a1a1a" stroke="#1a1a1a" stroke-width="0.22">DS</text>
<text x="388.4" y="360.9" font-size="8.0" fill="#1a1a1a" stroke="#1a1a1a" stroke-width="0.22">,</text>
<text x="393.2" y="360.9" font-size="7.8" textLength="101" lengthAdjust="spacingAndGlyphs" fill="#1a1a1a" stroke="#1a1a1a" stroke-width="0.22">Drain-to-Source Voltage (V)</text>
<text x="332.7" y="313.7" font-size="8.3" fill="#1a1a1a" stroke="#1a1a1a" stroke-width="0.22" transform="rotate(-90 332.7 313.7)">I</text>
<text x="334.7" y="310.7" font-size="7" fill="#1a1a1a" stroke="#1a1a1a" stroke-width="0.22" transform="rotate(-90 334.7 310.7)">D</text>
<text x="332.7" y="304.4" font-size="8.3" fill="#1a1a1a" stroke="#1a1a1a" stroke-width="0.22" transform="rotate(-90 332.7 304.4)">,</text>
<text x="332.7" y="297.9" font-size="7.8" textLength="101.7" lengthAdjust="spacingAndGlyphs" fill="#1a1a1a" stroke="#1a1a1a" stroke-width="0.22" transform="rotate(-90 332.7 297.9)">Drain-to-Source Current (A)</text>
<text x="113.8" y="670.5" font-size="9.6" font-weight="bold" textLength="25" lengthAdjust="spacingAndGlyphs" fill="#1a1a1a">Fig 3.</text>
<text x="145.6" y="670.5" font-size="9.6" textLength="138.6" lengthAdjust="spacingAndGlyphs" fill="#1a1a1a">Typical Transfer Characteristics</text>
<text x="352.4" y="669" font-size="9.6" font-weight="bold" textLength="24.6" lengthAdjust="spacingAndGlyphs" fill="#1a1a1a">Fig 4.</text>
<text x="382.9" y="669" font-size="9.6" textLength="117.2" lengthAdjust="spacingAndGlyphs" fill="#1a1a1a">Normalized On-Resistance</text>
<text x="389.9" y="680.8" font-size="9.6" textLength="72.4" lengthAdjust="spacingAndGlyphs" fill="#1a1a1a">Vs. Temperature</text>
<text x="92.2" y="118.7" font-size="10.8" font-weight="bold" textLength="57.8" lengthAdjust="spacingAndGlyphs" fill="#222" stroke="#222" stroke-width="0.1">IRHG57110</text>
<text x="446.6" y="118.9" font-size="10.8" font-weight="bold" textLength="74.3" lengthAdjust="spacingAndGlyphs" fill="#222" stroke="#222" stroke-width="0.1">Pre-Irradiation</text>
<text x="101.3" y="699.4" font-size="10" fill="#1a1a1a">4</text>
<text x="462.2" y="699.4" font-size="11" textLength="59.6" lengthAdjust="spacingAndGlyphs" fill="#1a1a1a">www.irf.com</text>
</svg>
</body></html>
